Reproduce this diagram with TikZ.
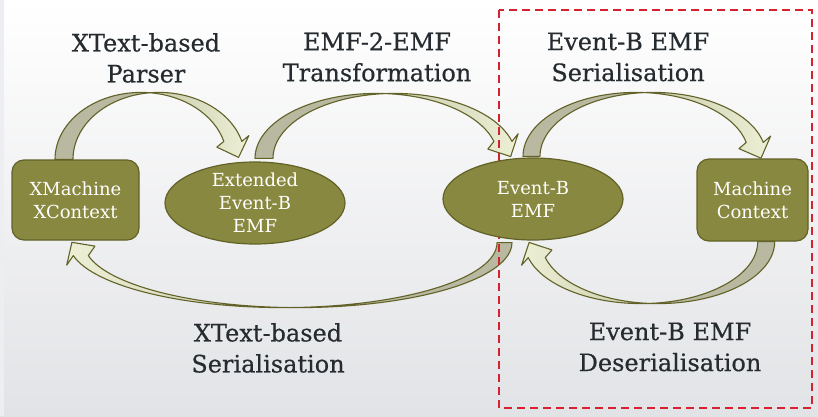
\documentclass[tikz,border=0pt]{standalone}
\usepackage{fontspec}
\setmainfont{DejaVu Serif}
\newfontfamily\lblfamily{DejaVu Serif}[FakeBold=0.45]
\usetikzlibrary{shapes.geometric,backgrounds,calc}
\definecolor{olivefill}{RGB}{136,136,64}
\definecolor{olivedark}{RGB}{98,98,40}
\definecolor{arrback}{RGB}{184,185,160}
\definecolor{arrmid}{RGB}{200,202,172}
\definecolor{arrlight}{RGB}{238,240,214}
\definecolor{lblcol}{RGB}{38,43,48}
\definecolor{redbox}{RGB}{214,34,46}
\definecolor{bgbottom}{RGB}{226,227,230}
\definecolor{bgstrip}{RGB}{236,238,241}
\newcommand\bentarrow[7]{%
 \pgfmathsetmacro\baA{acos(#3/(2*#1))}%
 \pgfmathsetmacro\baB{asin(#4/#2)}%
 \pgfmathsetmacro\baC{180-\baA}%
 \pgfmathsetmacro\baN{sqrt((#1*sin(\baB))^2+(#2*cos(\baB))^2)}%
 \pgfmathsetmacro\baDx{#1*sin(\baB)/\baN}%
 \pgfmathsetmacro\baDy{-#2*cos(\baB)/\baN}%
 \pgfmathsetmacro\baMx{#3/2+#1*cos(\baB)}%
 \pgfmathsetmacro\baOx{\baMx-\baDy*#5}%
 \pgfmathsetmacro\baOy{#4+\baDx*#5}%
 \pgfmathsetmacro\baIx{\baMx+\baDy*#5}%
 \pgfmathsetmacro\baIy{#4-\baDx*#5}%
 \pgfmathsetmacro\baTx{\baMx+\baDx*#6}%
 \pgfmathsetmacro\baTy{#4+\baDy*#6}%
 \pgfmathsetmacro\baPo{#3+#1*cos(\baB)}%
 \pgfmathsetmacro\baPi{#1*cos(\baB)}%
 \pgfmathsetmacro\baSy{#2*sin(\baA)}%
 \pgfmathsetmacro\baSx{#3/2}%
 \path[arrowback] (-#1,0) arc[start angle=180,end angle=\baA,x radius=#1,y radius=#2]
   arc[start angle=\baC,end angle=180,x radius=#1,y radius=#2] -- cycle;
 \path[arrowfront,#7] (\baSx,\baSy) arc[start angle=\baC,end angle=\baB,x radius=#1,y radius=#2]
   -- (\baOx,\baOy) -- (\baTx,\baTy) -- (\baIx,\baIy) -- (\baPi,#4)
   arc[start angle=\baB,end angle=\baA,x radius=#1,y radius=#2] -- cycle;
}
\tikzset{
  boxnode/.style={draw=olivedark,line width=1.2pt,fill=olivefill,rounded corners=12pt,
    minimum width=127pt,minimum height=80pt,text=white,align=center,
    font=\fontsize{18}{23}\selectfont},
  ellnode/.style={ellipse,draw=olivedark,line width=1.2pt,fill=olivefill,inner sep=0pt,
    minimum width=180pt,minimum height=82pt},
  ntext/.style={text=white,align=center,inner sep=0pt,font=\fontsize{18}{23}\selectfont},
  lbl/.style={text=lblcol,align=center,inner sep=0pt,font=\lblfamily\fontsize{24}{31}\selectfont},
  arrowback/.style={fill=arrback,draw=olivedark,line width=1.1pt,line join=round},
  arrowfront/.style={draw=olivedark,line width=1.1pt,line join=round},
  redframe/.style={draw=redbox,line width=1.8pt,dash pattern=on 8pt off 5pt}
}
\begin{document}
\begin{tikzpicture}[x=1pt,y=1pt]
\useasboundingbox (0,0) rectangle (818,416);
\begin{scope}[on background layer]
  \shade[top color=white,bottom color=bgbottom] (0,0) rectangle (818,416);
  \fill[bgstrip] (0,0) rectangle (4,416);
\end{scope}
% nodes
\node[boxnode] (xm) at (75.5,216) {XMachine\\XContext};
\node[ellnode] (ext) at (255,213) {};
\node[ntext] (extT) at (ext.center) {Extended\\Event-B\\EMF};
\node[ellnode] (emf) at (533,217) {};
\node[ntext] (emfT) at (emf.center) {Event-B\\EMF};
\node[boxnode,minimum width=111pt,minimum height=82pt] (mc) at (752.5,216) {Machine\\Context};
% labels
\node[lbl] (lparse) at (146,358) {XText-based\\Parser};
\node[lbl] (ltrans) at (377,359) {EMF-2-EMF\\Transformation};
\node[lbl] (lser) at (628,359) {Event-B EMF\\Serialisation};
\node[lbl] (lxser) at (268,68) {XText-based\\Serialisation};
\node[lbl] (ldeser) at (670,69) {Event-B EMF\\Deserialisation};
% arrows
\begin{scope}[on background layer]
  \begin{scope}[shift={($(xm.north)+(65.5,0)$)}]
    \bentarrow{86}{67}{18}{18}{17}{17}{left color=arrmid,right color=arrlight}
  \end{scope}
  \begin{scope}[shift={($(ext.north)+(121.6,3)$)}]
    \bentarrow{121.6}{65}{18}{17}{17}{17}{left color=arrmid,right color=arrlight}
  \end{scope}
  \begin{scope}[shift={($(emf.north)+(103,1)$)}]
    \bentarrow{113}{64}{17}{14}{17}{17}{left color=arrmid,right color=arrlight}
  \end{scope}
  \begin{scope}[shift={($(mc.south)+(-94.5,0)$)},rotate=180]
    \bentarrow{116.7}{62}{17}{16}{17}{17}{left color=arrlight,right color=arrmid}
  \end{scope}
  \begin{scope}[shift={($(emf.south)+(-235,-2)$)},rotate=180]
    \bentarrow{214}{65}{15}{13}{17}{16}{left color=arrlight,right color=arrmid}
  \end{scope}
  \coordinate (rA) at (499,406);
  \coordinate (rB) at (812,8);
  \draw[redframe] (rA) rectangle (rB);
\end{scope}
\end{tikzpicture}
\end{document}
